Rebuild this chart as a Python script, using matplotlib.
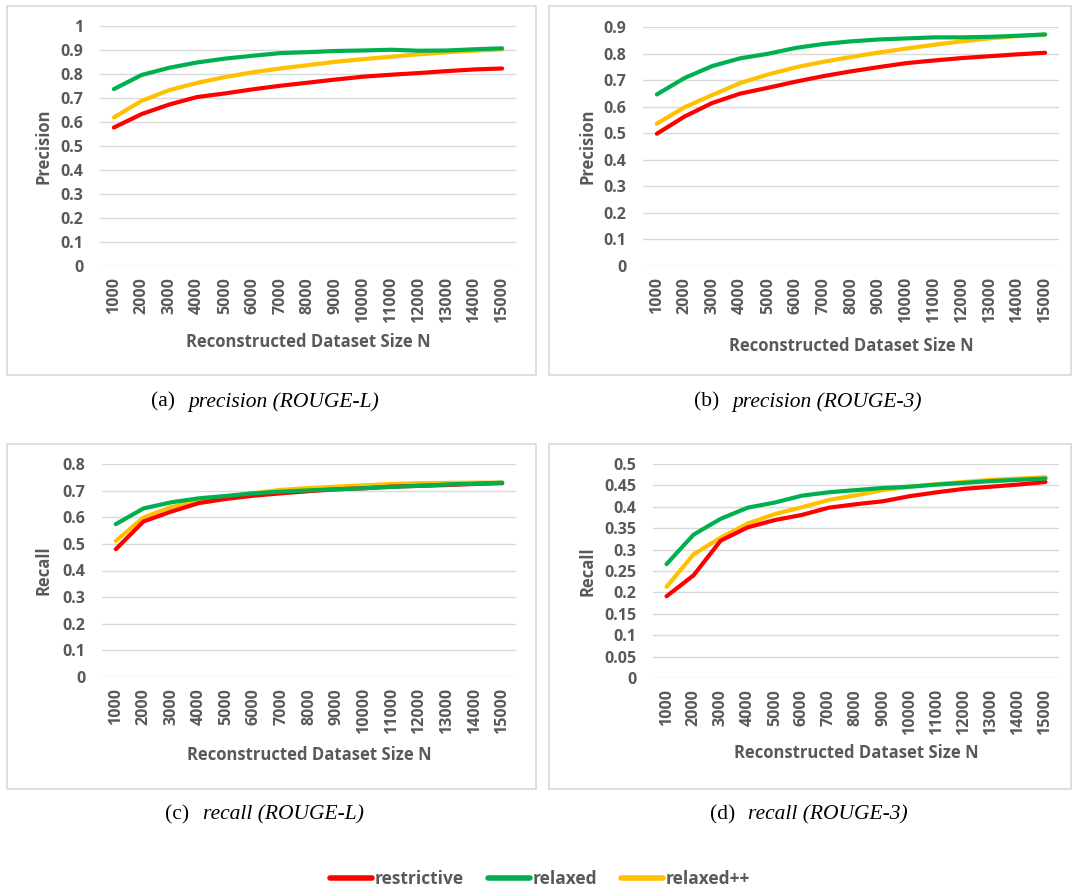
import matplotlib
matplotlib.use('Agg')
import matplotlib.pyplot as plt
from matplotlib.patches import Rectangle

sizes = ['1000', '2000', '3000', '4000', '5000', '6000', '7000', '8000',
         '9000', '10000', '11000', '12000', '13000', '14000', '15000']

# (a) precision ROUGE-L
prec_l_restrictive = [0.577, 0.633, 0.673, 0.704, 0.719, 0.736, 0.751, 0.764,
                      0.777, 0.789, 0.797, 0.804, 0.812, 0.819, 0.823]
prec_l_relaxed = [0.737, 0.796, 0.826, 0.848, 0.864, 0.876, 0.887, 0.891,
                  0.896, 0.898, 0.901, 0.897, 0.898, 0.903, 0.907]
prec_l_relaxedpp = [0.619, 0.688, 0.733, 0.763, 0.787, 0.807, 0.823, 0.837,
                    0.851, 0.862, 0.872, 0.882, 0.890, 0.897, 0.903]

# (b) precision ROUGE-3
prec_3_restrictive = [0.498, 0.563, 0.614, 0.649, 0.671, 0.694, 0.715, 0.733,
                      0.749, 0.764, 0.774, 0.783, 0.790, 0.797, 0.803]
prec_3_relaxed = [0.646, 0.708, 0.753, 0.782, 0.799, 0.821, 0.836, 0.846,
                  0.853, 0.857, 0.861, 0.861, 0.863, 0.867, 0.872]
prec_3_relaxedpp = [0.536, 0.598, 0.644, 0.689, 0.721, 0.748, 0.769, 0.787,
                    0.804, 0.819, 0.833, 0.846, 0.857, 0.866, 0.871]

# (c) recall ROUGE-L
rec_l_restrictive = [0.480, 0.584, 0.621, 0.653, 0.669, 0.681, 0.690, 0.698,
                     0.705, 0.709, 0.715, 0.718, 0.721, 0.725, 0.728]
rec_l_relaxed = [0.574, 0.633, 0.656, 0.671, 0.680, 0.690, 0.696, 0.701,
                 0.705, 0.709, 0.714, 0.718, 0.723, 0.726, 0.730]
rec_l_relaxedpp = [0.511, 0.599, 0.638, 0.661, 0.678, 0.690, 0.703, 0.710,
                   0.715, 0.720, 0.725, 0.728, 0.729, 0.730, 0.730]

# (d) recall ROUGE-3
rec_3_restrictive = [0.191, 0.240, 0.321, 0.352, 0.369, 0.381, 0.398, 0.406,
                     0.413, 0.425, 0.434, 0.442, 0.447, 0.452, 0.458]
rec_3_relaxed = [0.266, 0.335, 0.372, 0.398, 0.410, 0.426, 0.434, 0.439,
                 0.444, 0.447, 0.452, 0.456, 0.460, 0.463, 0.466]
rec_3_relaxedpp = [0.213, 0.289, 0.328, 0.361, 0.383, 0.399, 0.416, 0.427,
                   0.439, 0.447, 0.453, 0.458, 0.463, 0.466, 0.469]

series_names = ['restrictive', 'relaxed', 'relaxed++']
colors = ['#FF0000', '#00B050', '#FFC000']
draw_order = [2, 0, 1]

W, H = 1072, 889
fig = plt.figure(figsize=(W / 100, H / 100), dpi=100)
fig.patch.set_facecolor('white')

GRAY = '#595959'
SANS = ['Open Sans', 'DejaVu Sans']
SERIF = ['Liberation Serif', 'DejaVu Serif']


def px_axes(x0, y0, x1, y1):
    return fig.add_axes([x0 / W, 1 - y1 / H, (x1 - x0) / W, (y1 - y0) / H])


def box(x0, y0, x1, y1):
    fig.patches.append(Rectangle((x0 / W, 1 - y1 / H), (x1 - x0) / W, (y1 - y0) / H,
                                 transform=fig.transFigure, fill=False,
                                 edgecolor='#d9d9d9', linewidth=1.2))


panels = [
    # box, axes, ylim, step, ylabel, ylab_x_px, xlab_y_px, data, caption
    ((7, 6, 536, 375), (100, 26, 516, 266), 1.0, 0.1, 'Precision', 44, 342,
     [prec_l_restrictive, prec_l_relaxed, prec_l_relaxedpp],
     ('(a)', 'precision (ROUGE-L)', 151, 188, 402)),
    ((549, 6, 1071, 375), (643, 27, 1059, 266), 0.9, 0.1, 'Precision', 588, 346,
     [prec_3_restrictive, prec_3_relaxed, prec_3_relaxedpp],
     ('(b)', 'precision (ROUGE-3)', 694, 732, 402)),
    ((7, 444, 536, 789), (102, 464, 516, 677), 0.8, 0.1, 'Recall', 44, 755,
     [rec_l_restrictive, rec_l_relaxed, rec_l_relaxedpp],
     ('(c)', 'recall (ROUGE-L)', 165, 203, 815)),
    ((549, 444, 1071, 789), (653, 464, 1059, 678), 0.5, 0.05, 'Recall', 588, 753,
     [rec_3_restrictive, rec_3_relaxed, rec_3_relaxedpp],
     ('(d)', 'recall (ROUGE-3)', 710, 748, 815)),
]

handles = []
for bx, axp, ymax, step, ylab, ylx, xly, data, cap in panels:
    box(*bx)
    ax = px_axes(*axp)
    x = list(range(len(sizes)))
    hs = [None, None, None]
    for i in draw_order:
        hs[i], = ax.plot(x, data[i], color=colors[i], linewidth=3,
                         solid_capstyle='round', label=series_names[i], zorder=3)
    if not handles:
        handles = hs
    ax.set_xlim(-0.5, len(sizes) - 0.5)
    ax.set_ylim(0, ymax)
    n = int(round(ymax / step))
    yt = [round(k * step, 2) for k in range(n + 1)]
    ax.set_yticks(yt)
    ax.set_yticklabels(['%g' % v for v in yt])
    ax.set_xticks(x)
    ax.set_xticklabels(sizes, rotation=90)
    ax.grid(axis='y', color='#d9d9d9', linewidth=1)
    ax.set_axisbelow(True)
    for s in ax.spines.values():
        s.set_visible(False)
    ax.tick_params(length=0, labelsize=11.5, labelcolor=GRAY)
    ax.tick_params(axis='y', pad=12)
    ax.tick_params(axis='x', pad=8)
    for t in ax.get_xticklabels() + ax.get_yticklabels():
        t.set_family(SANS)
        t.set_fontweight('bold')
    axw = axp[2] - axp[0]
    axh = axp[3] - axp[1]
    ax.set_ylabel(ylab, fontsize=12, fontweight='bold', color=GRAY, family=SANS)
    ax.yaxis.set_label_coords((ylx - axp[0]) / axw, 0.5)
    ax.yaxis.label.set_va('center')
    ax.set_xlabel('Reconstructed Dataset Size N', fontsize=12, fontweight='bold',
                  color=GRAY, family=SANS)
    ax.xaxis.set_label_coords(0.5, (axp[3] - xly) / axh)
    ax.xaxis.label.set_va('center')

    tag, title, tx, ix, cy = cap
    fig.text(tx / W, 1 - cy / H, tag, fontsize=15.5, family=SERIF, va='center', ha='left')
    fig.text(ix / W, 1 - cy / H, title, fontsize=15.5, family=SERIF, style='italic',
             va='center', ha='left')

leg = fig.legend(handles=handles, labels=series_names, loc='center', ncol=3,
                 bbox_to_anchor=(540 / W, 1 - 879 / H), frameon=False,
                 handlelength=2.4, handletextpad=0.15, columnspacing=1.4,
                 prop={'family': SANS, 'weight': 'bold', 'size': 12.5})
for t in leg.get_texts():
    t.set_color(GRAY)
for l in leg.get_lines():
    l.set_linewidth(4)

fig.savefig('out.png', dpi=100, facecolor='white')
